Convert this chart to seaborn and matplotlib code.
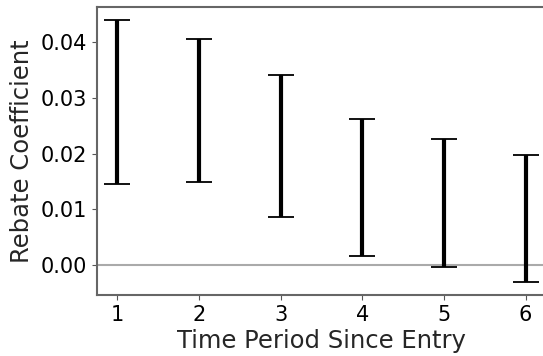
import numpy as np
import matplotlib
matplotlib.use("Agg")
import matplotlib.pyplot as plt
import seaborn as sns

periods = [1, 2, 3, 4, 5, 6]
ci_low = [0.0146, 0.0149, 0.0087, 0.0017, -0.0004, -0.0030]
ci_high = [0.0440, 0.0406, 0.0342, 0.0263, 0.0226, 0.0198]

sns.set_style("ticks")
plt.rcParams['font.family'] = ['DejaVu Sans']

lo = np.array(ci_low)
hi = np.array(ci_high)
mid = (lo + hi) / 2
err = (hi - lo) / 2

fig = plt.figure(figsize=(5.43, 3.56), dpi=100)
ax = fig.add_axes([0.1786, 0.171, 0.827, 0.809])

ax.axhline(0, color="#aaaaaa", linewidth=1.5, zorder=1)
ax.errorbar(periods, mid, yerr=err, fmt="none", ecolor="black",
            elinewidth=3, capsize=9.5, capthick=1.3, zorder=2)

ax.set_xlim(0.75, 6.25)
ax.set_ylim(-0.0054, 0.0463)
ax.set_xticks(periods)
ax.set_yticks([0.00, 0.01, 0.02, 0.03, 0.04])
ax.set_yticklabels(["0.00", "0.01", "0.02", "0.03", "0.04"])
ax.tick_params(labelsize=15, colors="black")
ax.tick_params(axis="both", color="#555555")
for s in ax.spines.values():
    s.set_color("#666666")
    s.set_linewidth(1.5)
ax.set_xlabel("Time Period Since Entry", fontsize=17.5, labelpad=3)
ax.set_ylabel("Rebate Coefficient", fontsize=17.5, labelpad=5)

fig.savefig("out.png", dpi=100)
